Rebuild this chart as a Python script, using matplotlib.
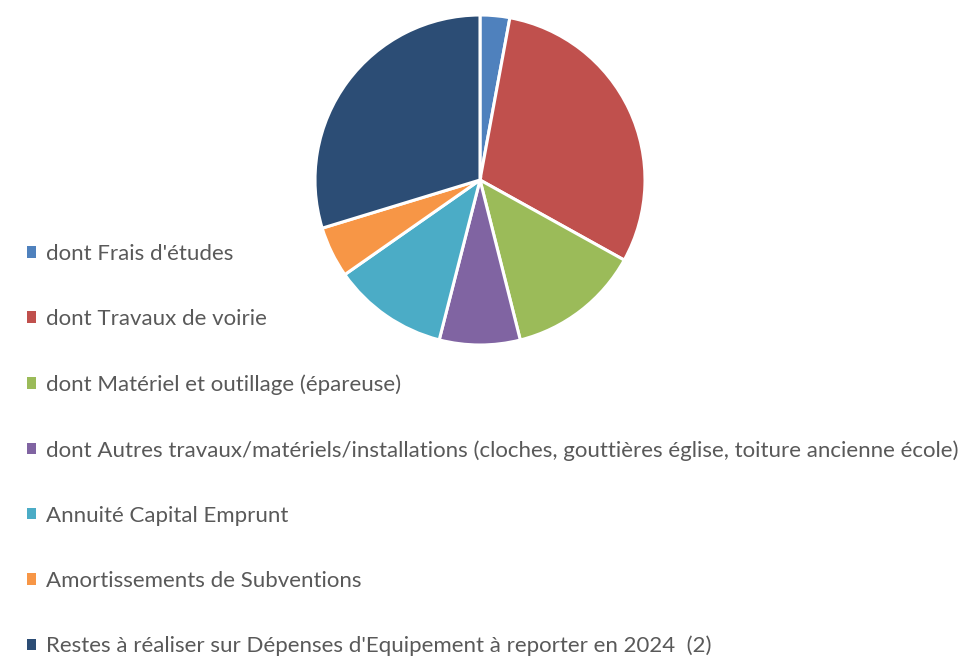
import matplotlib.pyplot as plt
from matplotlib.patches import Patch

labels = [
    "dont Frais d'études",
    "dont Travaux de voirie",
    "dont Matériel et outillage (épareuse)",
    "dont Autres travaux/matériels/installations (cloches, gouttières église, toiture ancienne école)",
    "Annuité Capital Emprunt",
    "Amortissements de Subventions",
    "Restes à réaliser sur Dépenses d'Equipement à reporter en 2024  (2)",
]
values = [2.9, 30.15, 13.0, 7.9, 11.3, 5.0, 29.7]
colors = ["#4f81bd", "#c0504d", "#9bbb59", "#8064a2", "#4bacc6", "#f79646", "#2c4d75"]

plt.rcParams['font.family'] = ['Lato', 'DejaVu Sans']

fig = plt.figure(figsize=(9.64, 6.6), dpi=100)
ax = fig.add_axes([315 / 964, 1 - 345 / 660, 330 / 964, 330 / 660])
ax.pie(values, colors=colors, startangle=90, counterclock=False,
       wedgeprops=dict(edgecolor='white', linewidth=2.2))
ax.set_xlim(-1.0, 1.0)
ax.set_ylim(-1.0, 1.0)
ax.set_aspect('equal')

handles = [Patch(facecolor=c, edgecolor='none') for c in colors]
leg = fig.legend(handles, labels, loc='upper left', bbox_to_anchor=(27 / 964, 1 - 244 / 660),
                 frameon=False, fontsize=16, labelcolor='#595959',
                 handlelength=0.42, handleheight=0.42, handletextpad=0.45,
                 labelspacing=2.03, borderaxespad=0, borderpad=0)

fig.savefig('out.png', dpi=100)
